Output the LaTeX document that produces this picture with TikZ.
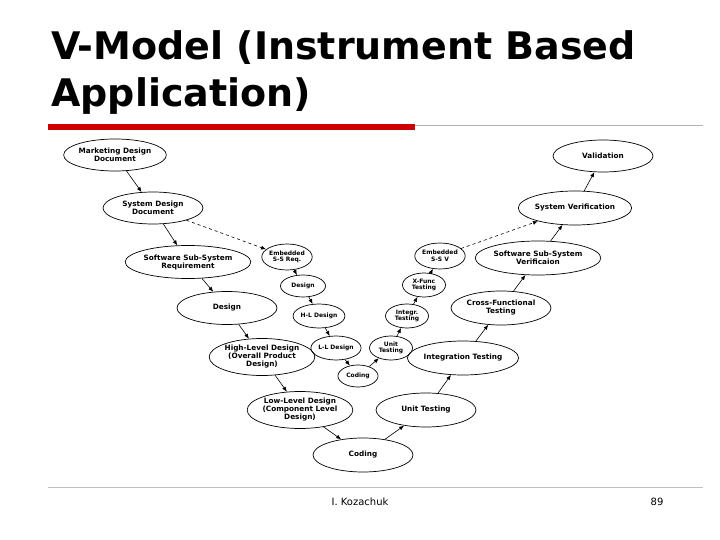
\documentclass[tikz,border=0pt]{standalone}
\usepackage{fontspec}
\setmainfont{DejaVu Sans}
\usetikzlibrary{shapes.geometric,arrows.meta}
\begin{document}
\begin{tikzpicture}[x=1pt,y=-1pt,
  el/.style={ellipse,draw,line width=0.7pt,inner sep=0pt,align=center,font=\fontsize{7.3}{8}\selectfont\bfseries},
  sm/.style={el,font=\fontsize{6}{6.5}\selectfont\bfseries},
  ar/.style={-{Latex[length=5pt,width=4pt]},line width=0.6pt},
  da/.style={ar,dashed}]
\useasboundingbox (0,0) rectangle (720,540);
\fill[white] (0,0) rectangle (720,540);
\node[anchor=north west,align=left,font=\fontsize{38}{47}\selectfont\bfseries,inner sep=0pt] (title) at (51,30) {V-Model (Instrument Based\\Application)};
\fill[red!80!black] (48,124) rectangle (415,130);
\draw[gray!60,line width=0.8pt] (415,125) -- (703,125);
\draw[gray!50,line width=0.6pt] (48,487) -- (703,487);
\node[font=\fontsize{10}{12}\selectfont] (au) at (360,502) {I. Kozachuk};
\node[font=\fontsize{10}{12}\selectfont] (pg) at (657,502) {89};
% left branch
\node[el,minimum width=100,minimum height=32] (mdd) at (115,155) {Marketing Design\\Document};
\node[el,minimum width=100,minimum height=32] (sdd) at (153,208) {System Design\\Document};
\node[el,minimum width=100,minimum height=33] (ssr) at (188,262) {Software Sub-System\\Requirement};
\node[el,minimum width=100,minimum height=33] (des) at (227,308) {Design};
\node[el,minimum width=100,minimum height=37] (hld) at (262,357) {High-Level Design\\(Overall Product\\Design)};
\node[el,minimum width=100,minimum height=37] (lld) at (300,410) {Low-Level Design\\(Component Level\\Design)};
\node[el,minimum width=100,minimum height=34] (cod) at (363,455) {Coding};
% inner V
\node[sm,minimum width=45,minimum height=26] (esr) at (287,257) {Embedded\\S-S Req.};
\node[sm,minimum width=45,minimum height=22] (sdes) at (303,286) {Design};
\node[sm,minimum width=45,minimum height=24] (shl) at (319,316) {H-L Design};
\node[sm,minimum width=45,minimum height=24] (sll) at (336,348) {L-L Design};
\node[sm,minimum width=40,minimum height=22] (scod) at (358,376) {Coding};
\node[sm,minimum width=43,minimum height=24] (sut) at (391,348) {Unit\\Testing};
\node[sm,minimum width=43,minimum height=24] (sit) at (407,316) {Integr.\\Testing};
\node[sm,minimum width=43,minimum height=24] (sxf) at (424,285) {X-Func\\Testing};
\node[sm,minimum width=45,minimum height=26] (esv) at (440,256) {Embedded\\S-S V};
% right branch
\node[el,minimum width=100,minimum height=34] (ut) at (426,410) {Unit Testing};
\node[el,minimum width=100,minimum height=34] (it) at (463,358) {Integration Testing};
\node[el,minimum width=100,minimum height=34] (cft) at (501,308) {Cross-Functional\\Testing};
\node[el,minimum width=100,minimum height=34] (ssv) at (538,258) {Software Sub-System\\Verificaion};
\node[el,minimum width=100,minimum height=34] (sv) at (575,208) {System Verification};
\node[el,minimum width=100,minimum height=32] (val) at (603,156) {Validation};
% arrows
\draw[ar] (mdd) -- (sdd);
\draw[ar] (sdd) -- (ssr);
\draw[ar] (ssr) -- (des);
\draw[ar] (des) -- (hld);
\draw[ar] (hld) -- (lld);
\draw[ar] (lld) -- (cod);
\draw[ar] (cod) -- (ut);
\draw[ar] (ut) -- (it);
\draw[ar] (it) -- (cft);
\draw[ar] (cft) -- (ssv);
\draw[ar] (ssv) -- (sv);
\draw[ar] (sv) -- (val);
\draw[da] (sdd) -- (esr);
\draw[ar] (esr) -- (sdes);
\draw[ar] (sdes) -- (shl);
\draw[ar] (shl) -- (sll);
\draw[ar] (sll) -- (scod);
\draw[ar] (scod) -- (sut);
\draw[ar] (sut) -- (sit);
\draw[ar] (sit) -- (sxf);
\draw[ar] (sxf) -- (esv);
\draw[da] (esv) -- (sv);
\end{tikzpicture}
\end{document}
